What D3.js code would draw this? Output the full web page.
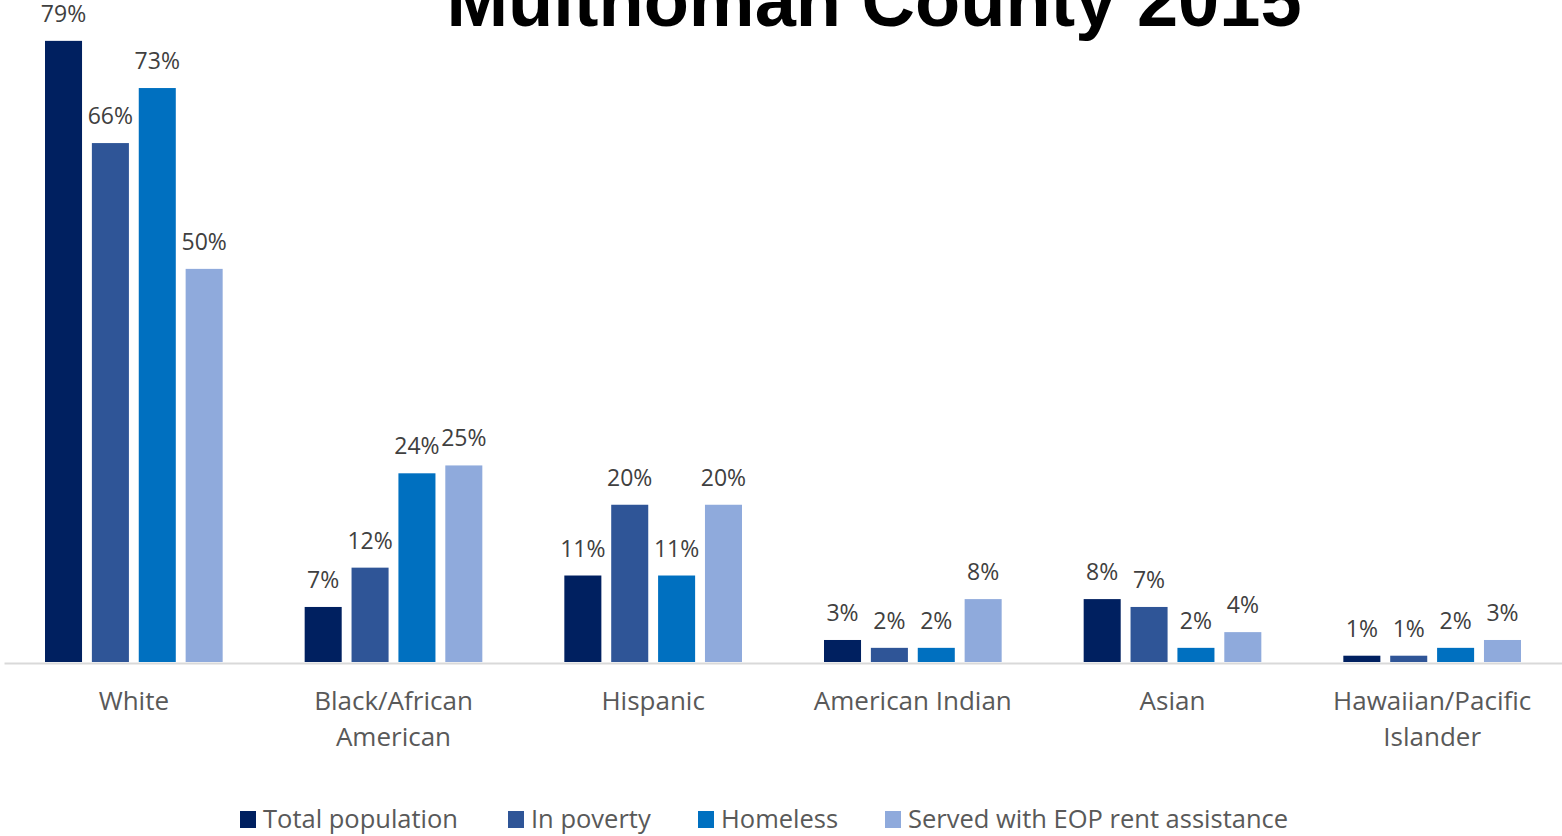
<!DOCTYPE html>
<html>
<head>
<meta charset="utf-8">
<script src="https://cdn.jsdelivr.net/npm/d3@7"></script>
<style>
  html, body { margin: 0; padding: 0; background: #ffffff; }
  svg { display: block; }
</style>
</head>
<body>
<svg id="chart" width="1562" height="836"></svg>
<script>
const title = "Multnomah County 2015";
const categories = [["White"], ["Black/African", "American"], ["Hispanic"], ["American Indian"], ["Asian"], ["Hawaiian/Pacific", "Islander"]];
const seriesNames = ["Total population", "In poverty", "Homeless", "Served with EOP rent assistance"];
const seriesColors = ["#002060", "#2F5597", "#0070C0", "#8FAADC"];
const totalPopulation = [79, 7, 11, 2.8, 8, 0.8];
const inPoverty = [66, 12, 20, 1.8, 7, 0.8];
const homeless = [73, 24, 11, 1.8, 1.8, 1.8];
const servedEOP = [50, 25, 20, 8, 3.8, 2.8];
const yDomain = [0, 80];

const seriesValues = [totalPopulation, inPoverty, homeless, servedEOP];
const catKeys = categories.map(c => c.join(" "));

const svg = d3.select("#chart");
const baseY = 662;

const x = d3.scaleBand().domain(catKeys).range([4, 1562]).paddingInner(0).paddingOuter(0);
const xs = d3.scaleBand().domain(seriesNames).range([41, x.bandwidth() - 41]).paddingInner(0.21).paddingOuter(0);
const y = d3.scaleLinear().domain(yDomain).range([baseY, 33]);

// Title
svg.append("text")
  .attr("x", 874).attr("y", 26)
  .attr("text-anchor", "middle")
  .attr("font-family", "'Liberation Sans', Arial, sans-serif")
  .attr("font-weight", "bold")
  .attr("font-size", 74)
  .attr("fill", "#000000")
  .text(title);

// Bars
const groups = svg.append("g").selectAll("g")
  .data(catKeys)
  .join("g")
  .attr("transform", d => `translate(${x(d)},0)`);

groups.each(function(cat, ci) {
  const g = d3.select(this);
  seriesNames.forEach((s, si) => {
    const v = seriesValues[si][ci];
    g.append("rect")
      .attr("x", xs(s))
      .attr("y", y(v))
      .attr("width", xs.bandwidth())
      .attr("height", baseY - y(v))
      .attr("fill", seriesColors[si]);
    g.append("text")
      .attr("x", xs(s) + xs.bandwidth() / 2)
      .attr("y", y(v) - 19)
      .attr("text-anchor", "middle")
      .attr("font-family", "'Open Sans', sans-serif")
      .attr("font-size", 23)
      .attr("fill", "#404040")
      .text(Math.round(v) + "%");
  });
});

// Axis line
const xAxis = d3.axisBottom(x).tickSize(0).tickFormat("");
const axisG = svg.append("g").attr("transform", `translate(0,${baseY + 1})`).call(xAxis);
axisG.select(".domain").attr("stroke", "#D9D9D9").attr("stroke-width", 2);

// Category labels
const labG = svg.append("g");
categories.forEach((lines, ci) => {
  const t = labG.append("text")
    .attr("x", x(catKeys[ci]) + x.bandwidth() / 2)
    .attr("y", 710)
    .attr("text-anchor", "middle")
    .attr("font-family", "'Open Sans', sans-serif")
    .attr("font-size", 26)
    .attr("fill", "#595959");
  lines.forEach((ln, li) => {
    t.append("tspan")
      .attr("x", x(catKeys[ci]) + x.bandwidth() / 2)
      .attr("dy", li === 0 ? 0 : 36)
      .text(ln);
  });
});

// Legend
const legendX = [240, 508, 698, 885];
const leg = svg.append("g");
seriesNames.forEach((s, i) => {
  leg.append("rect")
    .attr("x", legendX[i]).attr("y", 811)
    .attr("width", 16).attr("height", 17)
    .attr("fill", seriesColors[i]);
  leg.append("text")
    .attr("x", legendX[i] + 23).attr("y", 828)
    .attr("font-family", "'Open Sans', sans-serif")
    .attr("font-size", 25.5)
    .attr("fill", "#595959")
    .text(s);
});
</script>
</body>
</html>
